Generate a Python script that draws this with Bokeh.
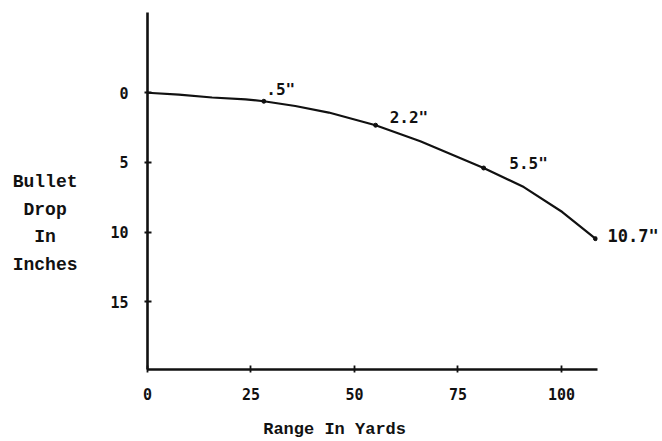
from bokeh.plotting import figure
from bokeh.models import Range1d, FixedTicker, Label, LinearAxis
from bokeh.embed import file_html
from bokeh.resources import INLINE

# Data
x_ticks = [0, 25, 50, 75, 100]
y_ticks = [0, 5, 10, 15]
curve_x = [0, 7.6, 15.6, 23.7, 28.1, 35.7, 43.8, 55.1, 65.9, 81.2, 90.9, 100.2, 108.2]
curve_y = [0, 0.13, 0.34, 0.47, 0.61, 0.95, 1.42, 2.33, 3.48, 5.4, 6.77, 8.56, 10.47]
mark_x = [28.1, 55.1, 81.2, 108.2]
mark_y = [0.61, 2.33, 5.4, 10.47]
drop_labels = ['.5"', '2.2"', '5.5"']
label_x = [28.7, 58.5, 87.4]
label_y = [-0.25, 1.75, 5.05]
end_label = '10.7"'
end_label_y = 10.27
y_title_lines = ["Bullet", "Drop\u00a0", "In\u00a0\u00a0", "Inches"]
y_title_ys = [6.4, 8.4, 10.35, 12.35]
x_title = "Range In Yards"
x_title_x = 45.2

INK = "#111111"

p = figure(width=662, height=441,
           x_range=Range1d(0, 108.7), y_range=Range1d(19.86, -5.76),
           output_backend="svg", toolbar_location=None,
           min_border_left=147, min_border_right=65,
           min_border_top=12, min_border_bottom=71)
p.outline_line_color = None
p.grid.visible = False
p.background_fill_color = "white"
p.border_fill_color = "white"

for ax, ticks in ((p.xaxis, x_ticks), (p.yaxis, y_ticks)):
    ax.ticker = FixedTicker(ticks=ticks)
    ax.axis_line_width = 2.6
    ax.axis_line_color = INK
    ax.major_tick_line_color = INK
    ax.major_tick_line_width = 1.8
    ax.major_tick_in = 4
    ax.major_tick_out = 3
    ax.minor_tick_line_color = None
    ax.major_label_text_font = "DejaVu Sans Mono"
    ax.major_label_text_font_style = "bold"
    ax.major_label_text_font_size = "15px"
    ax.major_label_text_color = INK
p.xaxis.major_label_standoff = 15
p.yaxis.major_label_standoff = 16


def text_axis(ticks, labels, font, size, standoff):
    ax = LinearAxis(ticker=FixedTicker(ticks=ticks),
                    major_label_overrides=dict(zip(ticks, labels)))
    ax.axis_line_color = None
    ax.major_tick_line_color = None
    ax.minor_tick_line_color = None
    ax.major_tick_in = 0
    ax.major_tick_out = 0
    ax.major_label_standoff = standoff
    ax.major_label_text_font = font
    ax.major_label_text_font_style = "bold"
    ax.major_label_text_font_size = size
    ax.major_label_text_color = INK
    return ax


# Y title (left of the y axis), x title (below the x axis), end label (right)
p.add_layout(text_axis(y_title_ys, y_title_lines, "Liberation Mono", "18px", 30), "left")
p.add_layout(text_axis([x_title_x], [x_title], "Liberation Mono", "17px", 17), "below")
p.add_layout(text_axis([end_label_y], [end_label], "DejaVu Sans Mono", "17px", 10), "right")

p.line(curve_x, curve_y, line_width=2.2, line_color=INK, line_join="round")
p.scatter(mark_x, mark_y, size=4, color=INK)

for t, x, y in zip(drop_labels, label_x, label_y):
    p.add_layout(Label(x=x, y=y, text=t, text_align="left", text_baseline="middle",
                       text_font="DejaVu Sans Mono", text_font_style="bold",
                       text_font_size="16px", text_color=INK))

open("out.html", "w").write(file_html(p, INLINE))
